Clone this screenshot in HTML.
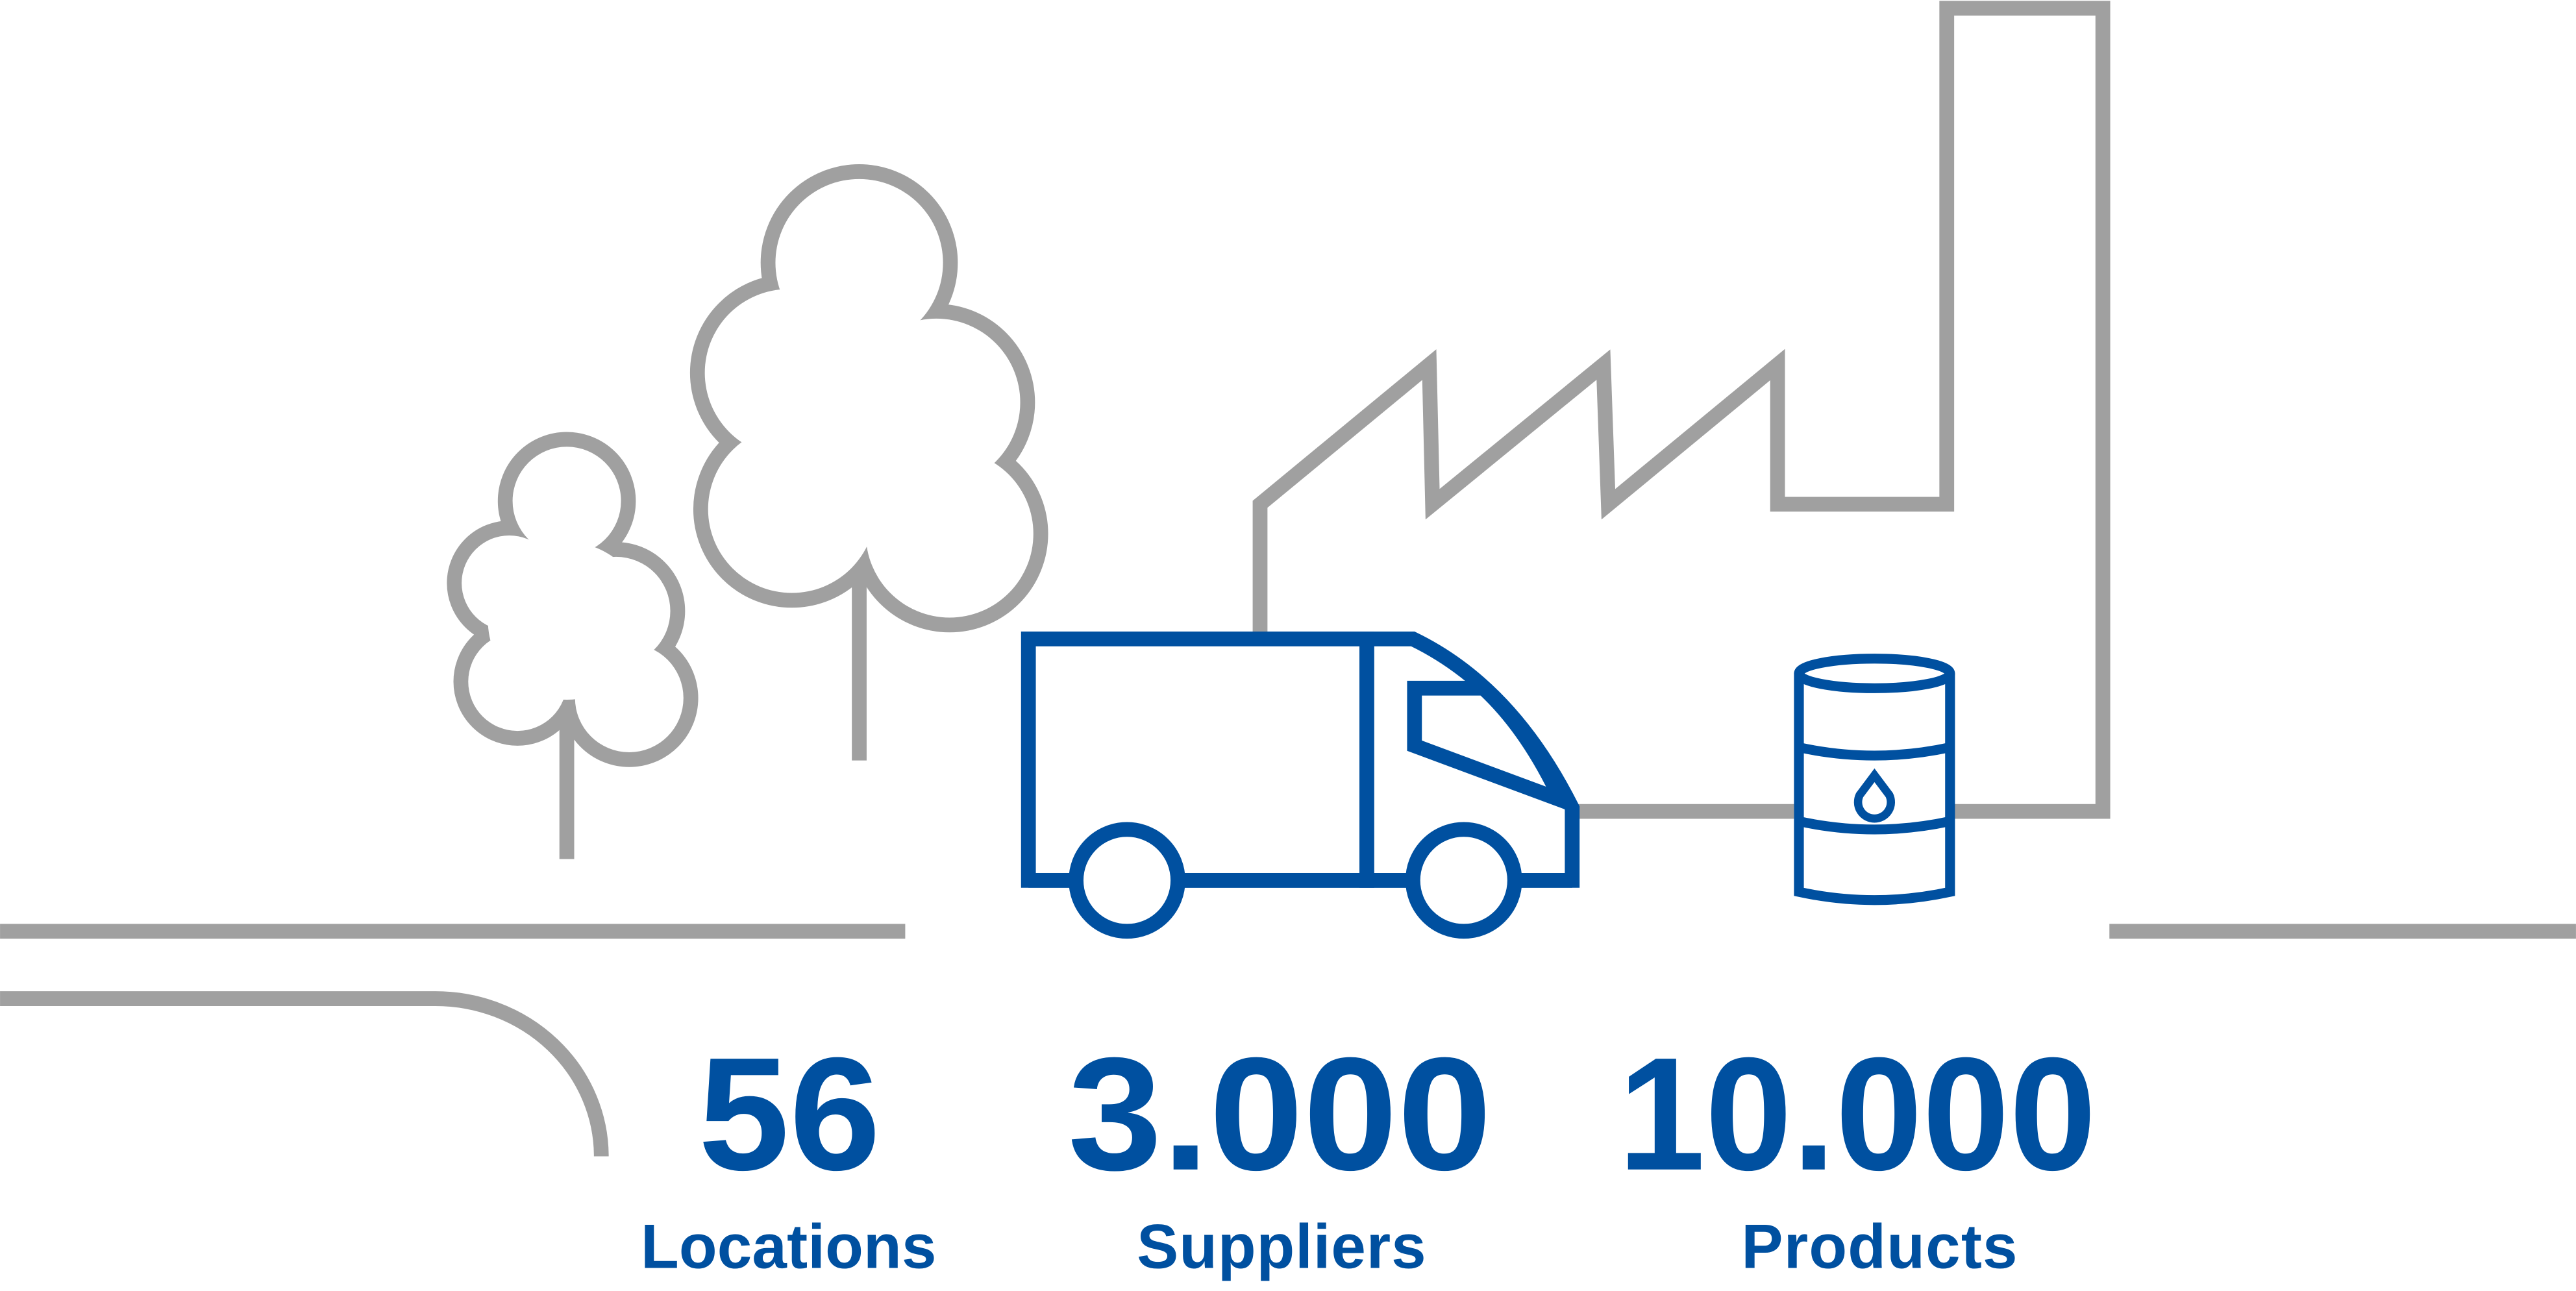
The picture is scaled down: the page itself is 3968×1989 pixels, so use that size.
<!DOCTYPE html>
<html><head><meta charset="utf-8"><style>html,body{margin:0;padding:0;background:#fff}svg{display:block}</style></head>
<body>
<svg width="3968" height="1989" viewBox="0 0 1568 786" xmlns="http://www.w3.org/2000/svg">
<g fill="none" stroke="#a0a0a0" stroke-width="9">
<line x1="0" y1="567" x2="551" y2="567"/>
<line x1="1284" y1="567" x2="1568" y2="567"/>
<path d="M0 608 L265 608 A101 96 0 0 1 366 704"/>
<path d="M767 385 L767 307 L870 222 L872 307 L976 222 L979 307 L1082 222 L1082 307 L1185 307 L1185 5 L1280 5 L1280 494 L1188 494"/>
<line x1="960" y1="494" x2="1092" y2="494"/>
<line x1="345" y1="430" x2="345" y2="523"/>
<line x1="523" y1="330" x2="523" y2="463"/>
</g>
<g stroke="#a0a0a0" stroke-width="18" fill="#a0a0a0">
<circle cx="345" cy="305" r="33"/><circle cx="310" cy="355" r="29"/><circle cx="315" cy="415" r="30"/><circle cx="375" cy="372" r="33"/><circle cx="383" cy="425" r="33"/><circle cx="345" cy="378" r="48"/>
<circle cx="523" cy="160" r="51"/><circle cx="480" cy="227" r="51"/><circle cx="482" cy="310" r="51"/><circle cx="570" cy="245" r="51"/><circle cx="578" cy="325" r="51"/><circle cx="528" cy="262" r="66"/>
</g>
<g fill="#fff">
<circle cx="345" cy="305" r="33"/><circle cx="310" cy="355" r="29"/><circle cx="315" cy="415" r="30"/><circle cx="375" cy="372" r="33"/><circle cx="383" cy="425" r="33"/><circle cx="345" cy="378" r="48"/>
<circle cx="523" cy="160" r="51"/><circle cx="480" cy="227" r="51"/><circle cx="482" cy="310" r="51"/><circle cx="570" cy="245" r="51"/><circle cx="578" cy="325" r="51"/><circle cx="528" cy="262" r="66"/>
</g>
<g fill="#fff" stroke="#0050a0" stroke-width="9">
<rect x="626" y="389" width="206" height="147"/>
<path d="M832 389 L860 389 Q920 418 957 492 L957 536 L832 536 Z"/>
<path d="M861 419 L903 419 Q930 444 950 487 L861 454 Z"/>
<line x1="626" y1="536" x2="957" y2="536"/>
<circle cx="686" cy="536" r="31"/>
<circle cx="891" cy="536" r="31"/>
</g>
<g fill="#fff" stroke="#0050a0" stroke-width="6">
<path d="M1095 410 L1095 543 Q1141 553 1187 543 L1187 410"/>
<ellipse cx="1141" cy="410" rx="46" ry="9"/>
<path d="M1095 455 Q1141 465 1187 455 M1095 500 Q1141 510 1187 500"/>
<path d="M1141 472 L1132 484 A10 10 0 1 0 1150 484 Z" stroke-width="5"/>
</g>
<g fill="#0050a0" font-family="'Liberation Sans',sans-serif" font-weight="bold" text-anchor="start">
<text x="425" y="712" font-size="98" textLength="111" lengthAdjust="spacingAndGlyphs">56</text>
<text x="650" y="712" font-size="98" textLength="258" lengthAdjust="spacingAndGlyphs">3.000</text>
<text x="985" y="712" font-size="98" textLength="291" lengthAdjust="spacingAndGlyphs">10.000</text>
<text x="390" y="772" font-size="38" textLength="180" lengthAdjust="spacing">Locations</text>
<text x="692" y="772" font-size="38" textLength="176" lengthAdjust="spacing">Suppliers</text>
<text x="1060" y="772" font-size="38" textLength="168" lengthAdjust="spacing">Products</text>
</g>
</svg>
</body></html>
